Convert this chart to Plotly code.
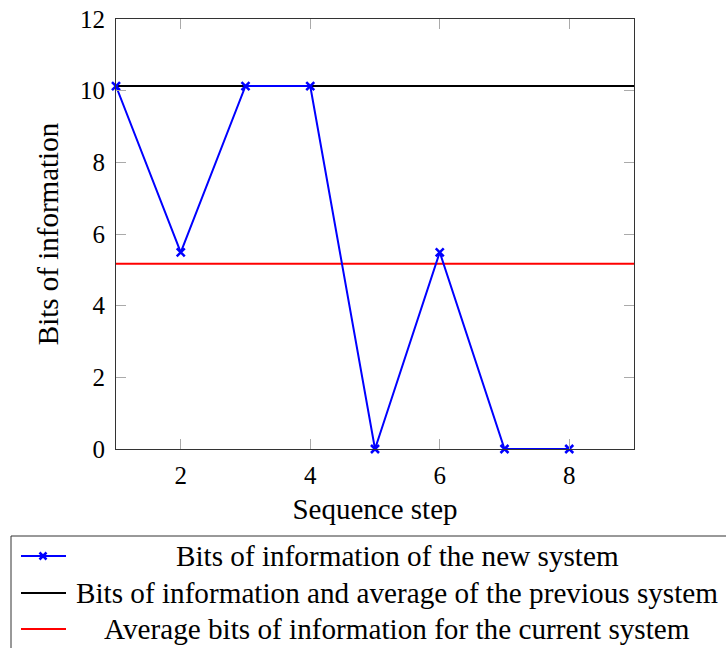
import plotly.graph_objects as go

steps = [1, 2, 3, 4, 5, 6, 7, 8]
new_bits = [10.13, 5.49, 10.13, 10.13, 0, 5.49, 0, 0]
prev_x = [1, 9]
prev_bits = [10.13, 10.13]
avg_x = [1, 9]
avg_bits = [5.17, 5.17]
x_ticks = [2, 4, 6, 8]
y_ticks = [0, 2, 4, 6, 8, 10, 12]
legend_labels = [
    "Bits of information of the new system",
    "Bits of information and average of the previous system",
    "Average bits of information for the current system",
]
legend_colors = ["#0000ff", "#000000", "#ff0000"]

FONT = "Liberation Serif"
W, H = 726, 648
L, T = 116, 19
pw, ph = 518, 430
R, B = W - L - pw, H - T - ph


def px(xs):
    return (xs - L) / pw


def py(ys):
    return (H - B - ys) / ph


fig = go.Figure()
fig.add_trace(go.Scatter(x=prev_x, y=prev_bits, mode="lines",
                         line=dict(color="black", width=2), name=legend_labels[1]))
fig.add_trace(go.Scatter(x=avg_x, y=avg_bits, mode="lines",
                         line=dict(color="#ff0000", width=2), name=legend_labels[2]))
fig.add_trace(go.Scatter(x=steps, y=new_bits, mode="lines+markers",
                         line=dict(color="#0000ff", width=2),
                         marker=dict(symbol="x-thin", size=8, line=dict(color="#0000ff", width=2.5)),
                         name=legend_labels[0], cliponaxis=False))

axis_common = dict(showgrid=False, zeroline=False, showline=True, linecolor="#333333",
                   linewidth=1, mirror="allticks", ticks="inside", ticklen=10,
                   tickcolor="#aaaaaa", ticklabeloverflow="allow", automargin=False,
                   tickfont=dict(family=FONT, size=25, color="black"))
fig.update_xaxes(range=[1, 9], tickvals=x_ticks, ticklabelstandoff=4,
                 title=dict(text="Sequence step",
                 font=dict(family=FONT, size=29, color="black"), standoff=10), **axis_common)
fig.update_yaxes(range=[0, 12], tickvals=y_ticks, ticklabelstandoff=5,
                 title=dict(text="Bits of information",
                 font=dict(family=FONT, size=29, color="black"), standoff=12), **axis_common)

shapes = []
annotations = []
# legend box
shapes.append(dict(type="rect", xref="paper", yref="paper",
                   x0=px(11), x1=px(820), y0=py(680), y1=py(536),
                   line=dict(color="#333333", width=1), fillcolor="white", layer="above"))
rows = [556, 593, 629]
for i, (lab, col) in enumerate(zip(legend_labels, legend_colors)):
    yy = py(rows[i])
    shapes.append(dict(type="line", xref="paper", yref="paper",
                       x0=px(21), x1=px(66), y0=yy, y1=yy,
                       line=dict(color=col, width=2), layer="above"))
    annotations.append(dict(text=lab, xref="paper", yref="paper", x=px(397), y=yy,
                            xanchor="center", yanchor="middle", showarrow=False,
                            font=dict(family=FONT, size=29.2, color="black")))
# x marker on blue legend sample
cx, cy, d = 43, rows[0], 3.5
shapes.append(dict(type="line", xref="paper", yref="paper", x0=px(cx - d), x1=px(cx + d),
                   y0=py(cy - d), y1=py(cy + d), line=dict(color="#0000ff", width=2.5), layer="above"))
shapes.append(dict(type="line", xref="paper", yref="paper", x0=px(cx - d), x1=px(cx + d),
                   y0=py(cy + d), y1=py(cy - d), line=dict(color="#0000ff", width=2.5), layer="above"))

fig.update_layout(width=W, height=H, margin=dict(l=L, r=R, t=T, b=B),
                  plot_bgcolor="white", paper_bgcolor="white", showlegend=False,
                  shapes=shapes, annotations=annotations,
                  font=dict(family=FONT, color="black"))
fig.write_html("out.html", config={"displayModeBar": False},
               post_script="document.body.style.margin='0';")
